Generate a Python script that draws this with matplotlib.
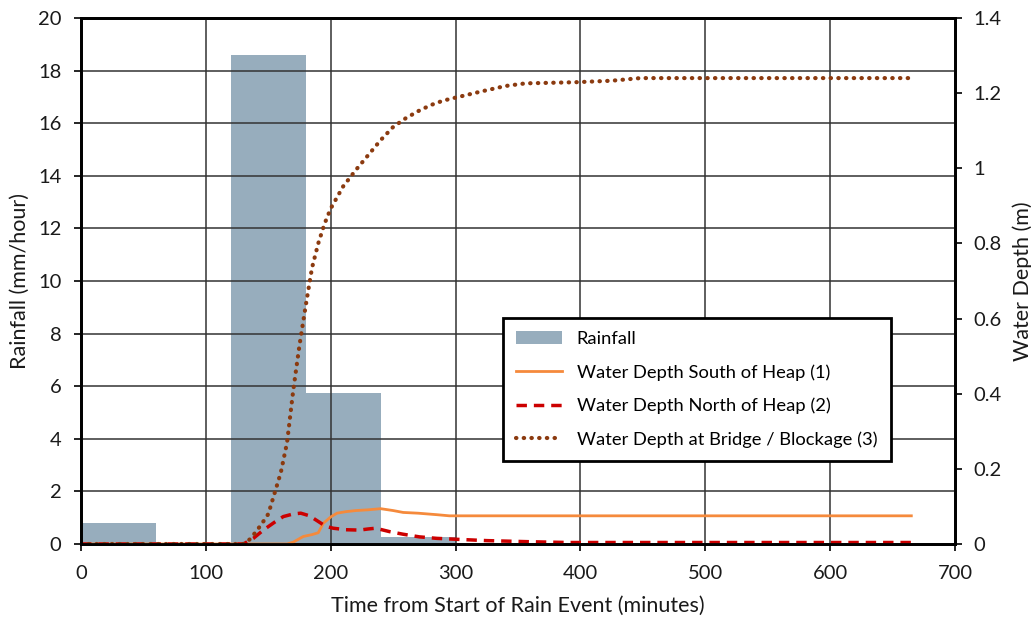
import numpy as np
import matplotlib
matplotlib.use("Agg")
import matplotlib.pyplot as plt

plt.rcParams['font.family'] = ['Lato', 'DejaVu Sans']

# rainfall blocks (minutes, mm/hour)
rain_start = [0, 60, 120, 180, 240]
rain_width = 60
rain_value = [0.8, 0.0, 18.6, 5.75, 0.25]

# water depth south of heap (1)
t_south = [0, 165, 170, 178, 185, 190, 194, 200, 205, 212, 220, 230, 240,
           250, 258, 270, 285, 295, 665]
d_south = [0, 0, 0.005, 0.02, 0.025, 0.03, 0.055, 0.072, 0.082, 0.086, 0.089,
           0.091, 0.094, 0.089, 0.084, 0.082, 0.078, 0.075, 0.075]

# water depth north of heap (2)
t_north = [0, 130, 138, 146, 155, 162, 170, 176, 183, 190, 196, 202, 212, 223,
           230, 236, 247, 258, 271, 285, 301, 325, 360, 390, 665]
d_north = [0, 0, 0.015, 0.037, 0.058, 0.073, 0.08, 0.082, 0.075, 0.06, 0.047,
           0.042, 0.038, 0.037, 0.04, 0.042, 0.033, 0.026, 0.019, 0.015, 0.0125,
           0.009, 0.006, 0.004, 0.004]

# water depth at bridge / blockage (3)
t_bridge = [0, 130, 135, 140, 145, 150, 155, 160, 165, 170, 175, 180, 185, 190,
            195, 200, 210, 220, 230, 240, 250, 260, 270, 280, 290, 300, 320,
            340, 356, 396, 425, 448, 500, 600, 665]
d_bridge = [0, 0, 0.012, 0.032, 0.055, 0.08, 0.135, 0.19, 0.27, 0.41, 0.53,
            0.635, 0.735, 0.8, 0.852, 0.893, 0.952, 0.995, 1.035, 1.075, 1.11,
            1.133, 1.152, 1.168, 1.18, 1.188, 1.204, 1.219, 1.226, 1.229, 1.233,
            1.24, 1.24, 1.24, 1.24]

fig = plt.figure(figsize=(10.31, 6.22), dpi=100)
ax = fig.add_axes([0.0786, 0.1254, 0.8477, 0.8457])
ax2 = ax.twinx()

bars = ax.bar(rain_start, rain_value, width=rain_width, align='edge',
              color='#97adbd', label='Rainfall', zorder=1)

ax.set_xlim(0, 700)
ax.set_ylim(0, 20)
ax.set_xticks(range(0, 701, 100))
ax.set_yticks(range(0, 21, 2))
ax.set_axisbelow(False)
ax.grid(True, color='#333333', linewidth=1.1)

l1, = ax2.plot(t_south, d_south, color='#f58a3c', linewidth=2,
               label='Water Depth South of Heap (1)')
l2, = ax2.plot(t_north, d_north, color='#cc0000', linewidth=2.5,
               linestyle=(0, (3, 2)), label='Water Depth North of Heap (2)')
l3, = ax2.plot(t_bridge, d_bridge, color='#8b3a0f', linewidth=3,
               linestyle=(0, (0.1, 1.75)), dash_capstyle='round',
               label='Water Depth at Bridge / Blockage (3)')
ax2.set_ylim(0, 1.4)
ax2.set_yticks([0, 0.2, 0.4, 0.6, 0.8, 1.0, 1.2, 1.4])
ax2.set_yticklabels(['0', '0.2', '0.4', '0.6', '0.8', '1', '1.2', '1.4'])

for a in (ax, ax2):
    for s in a.spines.values():
        s.set_linewidth(2)
        s.set_color('black')
    a.tick_params(direction='out', length=5, width=1.2, labelsize=14.5,
                  colors='black', labelcolor='#1a1a1a')
ax.tick_params(axis='y', pad=9)
ax.tick_params(axis='x', pad=10)
ax2.tick_params(axis='y', pad=8)

ax.set_xlabel('Time from Start of Rain Event (minutes)', fontsize=15.5,
              color='#1a1a1a', labelpad=10)
ax.set_ylabel('Rainfall (mm/hour)', fontsize=15.5, color='#1a1a1a',
              labelpad=6)
ax2.set_ylabel('Water Depth (m)', fontsize=15.5, color='#1a1a1a', labelpad=8)

leg = ax2.legend([bars, l1, l2, l3], [h.get_label() for h in (bars, l1, l2, l3)],
                 loc='upper left', bbox_to_anchor=(0.483, 0.43), fontsize=13.2,
                 frameon=True, fancybox=False, framealpha=1, edgecolor='black',
                 handlelength=2.5, handletextpad=0.8, labelspacing=0.93,
                 borderpad=0.72, borderaxespad=0)
leg.get_frame().set_linewidth(2)

fig.savefig('out.png', dpi=100)
